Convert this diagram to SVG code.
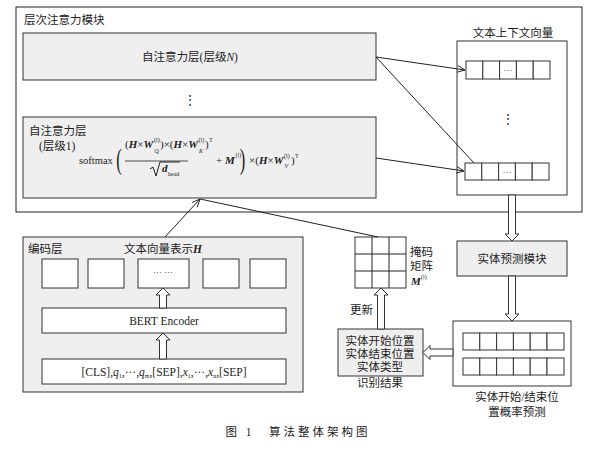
<svg xmlns="http://www.w3.org/2000/svg" width="600" height="450" viewBox="0 0 600 450">
<defs>
<marker id="ah" markerWidth="9" markerHeight="8" refX="8" refY="4" orient="auto" markerUnits="userSpaceOnUse">
<path d="M0,0.5 L8,4 L0,7.5" fill="none" stroke="#222" stroke-width="0.9"/>
</marker>
</defs>
<style>
text{font-family:"Liberation Serif","Noto Sans CJK SC",serif;fill:#222;font-size:11.5px}
.c{text-anchor:middle}
.box{fill:#efefef;stroke:#333;stroke-width:1}
.wb{fill:#fff;stroke:#333;stroke-width:1}
.ln{fill:none;stroke:#222;stroke-width:1}
.ha{fill:#fff;stroke:#333;stroke-width:1}
.f{font-size:11px}
.bi{font-weight:bold;font-style:italic}
.s{font-size:6px}
.si{font-size:6px;font-style:italic}
</style>
<rect width="600" height="450" fill="#fff"/>

<g id="hier-module">
<rect x="16" y="7" width="566" height="205" fill="#fff" stroke="#222"/>
<text x="24" y="24">层次注意力模块</text>
</g>

<g id="layerN">
<rect class="box" x="23" y="33" width="353" height="47"/>
<text class="c" x="190" y="61">自注意力层(层级<tspan font-style="italic">N</tspan>)</text>
</g>
<text class="c" x="190" y="104">⋮</text>

<g id="layer1">
<rect class="box" x="23" y="117" width="353" height="81"/>
<text x="29" y="135">自注意力层</text>
<text x="39" y="150">(层级1)</text>
<text class="f" x="79" y="164" style="font-size:10.5px">softmax</text>
<text x="113" y="169" style="font-size:30px" transform="translate(120 0) scale(0.55 1) translate(-120 0)">(</text>
<text class="f" x="125" y="148">(<tspan class="bi">H</tspan>×<tspan class="bi">W</tspan></text>
<text class="s" x="154" y="142">(l)</text>
<text class="s" x="154.5" y="153">Q</text>
<text class="f" x="160" y="148">)×(<tspan class="bi">H</tspan>×<tspan class="bi">W</tspan></text>
<text class="s" x="198.5" y="142">(l)</text>
<text class="si" x="199" y="153">K</text>
<text class="f" x="205" y="148">)</text>
<text class="s" x="209" y="142">T</text>
<line x1="125" y1="161" x2="188" y2="161" stroke="#222" stroke-width="0.8"/>
<path d="M150,169 L153,167 L156,176 L160,162 L180,162" fill="none" stroke="#222" stroke-width="1"/>
<text class="f bi" x="162" y="172">d</text>
<text class="s" x="168" y="176">head</text>
<text class="f" x="216" y="164">+ <tspan class="bi">M</tspan></text>
<text class="s" x="235.5" y="157">(l)</text>
<text x="237" y="169" style="font-size:30px" transform="translate(243 0) scale(0.55 1) translate(-243 0)">)</text>
<text class="f" x="249" y="164">×(<tspan class="bi">H</tspan>×<tspan class="bi">W</tspan></text>
<text class="s" x="284" y="158">(l)</text>
<text class="si" x="284.5" y="168">V</text>
<text class="f" x="291" y="164">)</text>
<text class="s" x="295" y="158">T</text>
</g>

<g id="context-vectors">
<text class="c" x="513" y="37">文本上下文向量</text>
<rect class="wb" x="457" y="41" width="110" height="154"/>
<g>
<rect class="wb" x="466" y="61" width="16.8" height="18"/>
<rect class="wb" x="482.8" y="61" width="16.8" height="18"/>
<rect class="wb" x="499.6" y="61" width="16.8" height="18"/>
<rect class="wb" x="516.4" y="61" width="16.8" height="18"/>
<rect class="wb" x="533.2" y="61" width="16.8" height="18"/>
<text class="c" x="508" y="73" style="font-size:9px">···</text>
</g>
<text class="c" x="508" y="123">⋮</text>
<g>
<rect class="wb" x="465" y="163" width="16.8" height="17"/>
<rect class="wb" x="481.8" y="163" width="16.8" height="17"/>
<rect class="wb" x="498.6" y="163" width="16.8" height="17"/>
<rect class="wb" x="515.4" y="163" width="16.8" height="17"/>
<rect class="wb" x="532.2" y="163" width="16.8" height="17"/>
<text class="c" x="507" y="175" style="font-size:9px">···</text>
</g>
</g>

<g id="entity-pred">
<rect class="box" x="457" y="241" width="110" height="35"/>
<text class="c" x="512" y="263">实体预测模块</text>
</g>

<g id="prob-pred">
<rect class="wb" x="453" y="321" width="118" height="65"/>
<rect class="wb" x="463" y="333" width="16.8" height="17"/>
<rect class="wb" x="479.8" y="333" width="16.8" height="17"/>
<rect class="wb" x="496.6" y="333" width="16.8" height="17"/>
<rect class="wb" x="513.4" y="333" width="16.8" height="17"/>
<rect class="wb" x="530.2" y="333" width="16.8" height="17"/>
<rect class="wb" x="547" y="333" width="17" height="17"/>
<rect class="wb" x="463" y="358" width="16.8" height="17"/>
<rect class="wb" x="479.8" y="358" width="16.8" height="17"/>
<rect class="wb" x="496.6" y="358" width="16.8" height="17"/>
<rect class="wb" x="513.4" y="358" width="16.8" height="17"/>
<rect class="wb" x="530.2" y="358" width="16.8" height="17"/>
<rect class="wb" x="547" y="358" width="17" height="17"/>
<text class="c" x="517" y="401">实体开始/结束位</text>
<text class="c" x="517" y="416">置概率预测</text>
</g>

<g id="result">
<rect class="box" x="338" y="329" width="85" height="47"/>
<text class="c" x="380" y="345">实体开始位置</text>
<text class="c" x="380" y="358">实体结束位置</text>
<text class="c" x="380" y="371">实体类型</text>
<text class="c" x="380" y="387">识别结果</text>
</g>

<g id="mask">
<rect class="wb" x="355" y="237" width="51" height="51"/>
<path class="ln" d="M372,237 V288 M389,237 V288 M355,254 H406 M355,271 H406"/>
<text x="410" y="256">掩码</text>
<text x="410" y="270">矩阵</text>
<text x="411" y="285" class="f bi">M</text>
<text x="421" y="279" class="s">(l)</text>
</g>

<g id="encoder">
<rect class="box" x="23" y="237" width="280" height="155"/>
<text x="28" y="253">编码层</text>
<text class="c" x="163" y="253">文本向量表示<tspan class="bi">H</tspan></text>
<rect class="wb" x="42" y="259" width="36" height="29"/>
<rect class="wb" x="88" y="259" width="36" height="29"/>
<rect class="wb" x="138" y="259" width="51" height="29"/>
<text class="c" x="163" y="275" style="font-size:9px">··· ···</text>
<rect class="wb" x="203" y="259" width="36" height="29"/>
<rect class="wb" x="250" y="259" width="36" height="29"/>
<rect class="wb" x="42" y="308" width="244" height="25"/>
<text class="c" x="164" y="325">BERT Encoder</text>
<rect class="wb" x="42" y="359" width="244" height="25"/>
<text class="c" x="164" y="376">[CLS],<tspan font-style="italic">q</tspan><tspan class="s" dy="2">1</tspan><tspan dy="-2">,···,</tspan><tspan font-style="italic">q</tspan><tspan class="s" dy="2">m</tspan><tspan dy="-2">,[SEP],</tspan><tspan font-style="italic">x</tspan><tspan class="s" dy="2">1</tspan><tspan dy="-2">,···,</tspan><tspan font-style="italic">x</tspan><tspan class="s" dy="2">n</tspan><tspan dy="-2">,[SEP]</tspan></text>
</g>

<g id="connectors">
<line class="ln" x1="376" y1="57" x2="465" y2="70" marker-end="url(#ah)"/>
<line class="ln" x1="376" y1="57" x2="474" y2="163"/>
<line class="ln" x1="376" y1="158" x2="464" y2="171" marker-end="url(#ah)"/>
<line class="ln" x1="378" y1="237" x2="200" y2="199"/>
<line class="ln" x1="165" y1="237" x2="200" y2="199" marker-end="url(#ah)"/>
<polygon class="ha" points="508.5,195 508.5,234 505,234 512,241 519,234 515.5,234 515.5,195"/>
<polygon class="ha" points="508.5,276 508.5,314 505,314 512,321 519,314 515.5,314 515.5,276"/>
<polygon class="ha" points="453,349 430,349 430,345.5 423,352.5 430,359.5 430,356 453,356"/>
<polygon class="ha" points="377.5,329 377.5,295 374,295 381,288 388,295 384.5,295 384.5,329"/>
<text x="350" y="314">更新</text>
<polygon class="ha" points="159.5,308 159.5,295 156,295 163,288 170,295 166.5,295 166.5,308"/>
<polygon class="ha" points="159.5,359 159.5,340 156,340 163,333 170,340 166.5,340 166.5,359"/>
</g>

<text class="c" x="298" y="436" style="letter-spacing:3px">图 1　算法整体架构图</text>
</svg>
